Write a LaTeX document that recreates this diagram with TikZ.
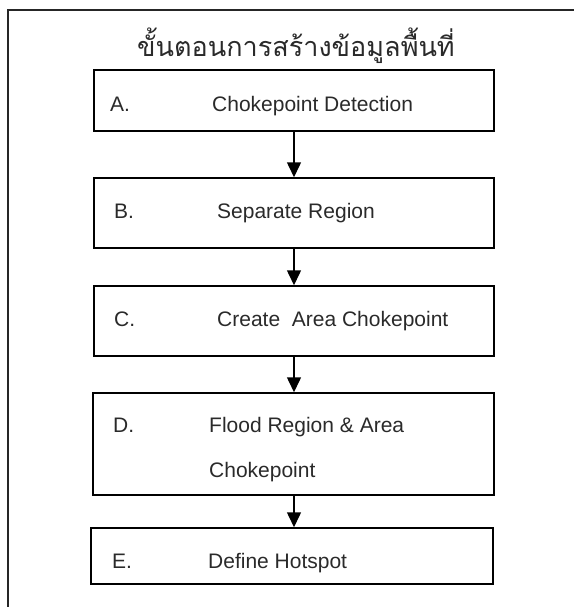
\documentclass[tikz,border=0pt]{standalone}
\usepackage{fontspec}
\setmainfont{Liberation Sans}
\newfontfamily\thaifont[Script=Thai]{Loma}
\usetikzlibrary{arrows.meta}
\definecolor{txt}{HTML}{2A2A2A}
\tikzset{
  stepbox/.style={draw=black, line width=1.5pt, rectangle, inner sep=0pt, minimum width=400pt},
  lbl/.style={anchor=base west, inner sep=0pt, text=txt, font=\fontsize{21}{25}\selectfont},
  arr/.style={line width=1.5pt, -{Triangle[width=14pt,length=15pt]}},
  frame/.style={line width=1.5pt, draw=black!85}
}
\begin{document}
\begin{tikzpicture}[x=1pt,y=-1pt]
\useasboundingbox (0,0) rectangle (574,607);
\coordinate (f1) at (8,607);
\coordinate (f2) at (8,10);
\coordinate (f3) at (574,10);
\draw[frame] (f1) -- (f2) -- (f3);
\node[anchor=base, inner sep=0pt, text=txt, font=\thaifont\fontsize{27}{32}\selectfont] (title) at (296,57) {ขั้นตอนการสร้างข้อมูลพื้นที่};
\node[stepbox, minimum height=61pt] (A) at (294,100.5) {};
\node[stepbox, minimum height=70pt] (B) at (294,213) {};
\node[stepbox, minimum height=70pt] (C) at (294,321) {};
\node[stepbox, minimum height=102pt, minimum width=401pt] (D) at (293.5,444) {};
\node[stepbox, minimum height=56pt, minimum width=402pt] (E) at (292,556) {};
\node[lbl] (Al) at (110,112) {A.};
\node[lbl] (At) at (212,112) {Chokepoint Detection};
\node[lbl] (Bl) at (114,218) {B.};
\node[lbl] (Bt) at (217,218) {Separate Region};
\node[lbl] (Cl) at (114,326) {C.};
\node[lbl] (Ct) at (217,326) {Create\ \ Area Chokepoint};
\node[lbl] (Dl) at (113,432) {D.};
\node[lbl] (Dt1) at (209,432) {Flood Region \& Area};
\node[lbl] (Dt2) at (209,477) {Chokepoint};
\node[lbl] (El) at (112,568) {E.};
\node[lbl] (Et) at (208,568) {Define Hotspot};
\draw[arr] (A.south) -- (B.north);
\draw[arr] (B.south) -- (C.north);
\draw[arr] (C.south -| A.south) -- (D.north -| A.south);
\draw[arr] (D.south -| A.south) -- (E.north -| A.south);
\end{tikzpicture}
\end{document}
